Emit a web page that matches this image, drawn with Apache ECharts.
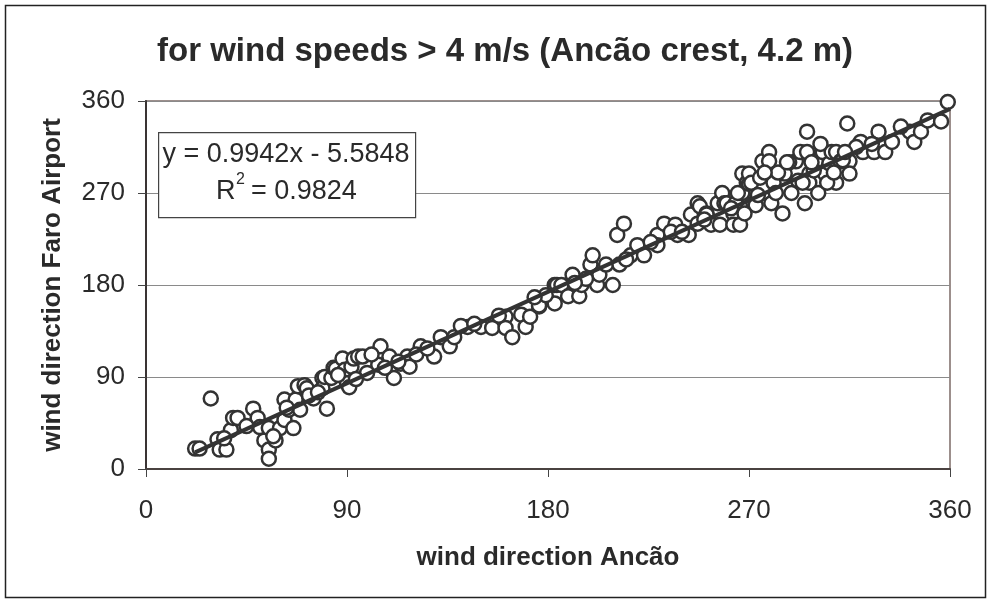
<!DOCTYPE html>
<html>
<head>
<meta charset="utf-8">
<script src="https://cdn.jsdelivr.net/npm/echarts@6/dist/echarts.min.js"></script>
<style>
  html, body { margin: 0; padding: 0; background: #fff; }
  #chart { width: 988px; height: 600px; }
</style>
</head>
<body>
<div id="chart"></div>
<script>
// wind direction pairs: [Ancão, Faro Airport]
const ancao = [
    22, 29, 32, 33, 36, 38, 39, 41, 48, 50, 51, 53, 55, 55, 55, 58, 60, 62, 62, 64,
    66, 67, 68, 69, 71, 72, 75, 79, 79, 81, 80, 83, 84, 85, 88, 89, 90, 91, 92, 93,
    95, 97, 104, 105, 109, 111, 114, 117, 118, 123, 129, 132, 136, 138, 144, 150, 155, 161, 161, 164,
    168, 170, 172, 176, 176, 183, 183, 184, 186, 189, 191, 194, 195, 199, 200, 202, 203, 206, 209, 211,
    212, 214, 217, 220, 223, 229, 229, 232, 237, 238, 243, 244, 247, 247, 248, 251, 251, 253, 253, 256,
    257, 258, 259, 260, 263, 263, 264, 266, 266, 267, 267, 269, 270, 270, 271, 272, 273, 276, 279, 279,
    280, 281, 285, 286, 289, 291, 293, 295, 296, 296, 297, 297, 300, 301, 303, 304, 306, 307, 309, 309,
    311, 314, 315, 315, 320, 321, 326, 328, 331, 334, 342, 344, 347, 350, 356, 359,
    35, 57, 63, 73, 86, 99, 101, 107, 121, 141, 158, 179, 197, 215, 226, 235, 262, 275, 283, 288,
    299, 302, 318, 338, 24, 45, 77, 94, 113, 126, 147, 174, 192, 240, 250, 274, 292, 312, 325,
    265, 268, 277, 282, 287, 294, 298, 305, 308, 313
];
const faro = [
    20, 69, 29, 19, 19, 38, 50, 50, 59, 50, 41, 28, 40, 19, 10, 28, 40, 48, 68, 58,
    40, 68, 81, 58, 82, 79, 69, 89, 79, 59, 90, 89, 99, 98, 108, 97, 84, 80, 100, 108,
    110, 110, 102, 120, 110, 89, 103, 110, 100, 120, 110, 129, 120, 129, 139, 139, 138, 149, 138, 129,
    151, 139, 149, 159, 160, 162, 180, 180, 180, 169, 190, 169, 180, 200, 209, 180, 190, 200, 180, 229,
    200, 240, 209, 219, 209, 229, 219, 240, 239, 229, 229, 249, 240, 260, 257, 250, 249, 240, 239, 260,
    239, 270, 260, 260, 250, 239, 260, 239, 270, 289, 270, 280, 279, 289, 280, 260, 258, 301, 310, 301,
    260, 280, 250, 289, 270, 301, 310, 260, 330, 310, 289, 280, 301, 270, 310, 289, 299, 310, 280, 310,
    301, 338, 301, 289, 320, 310, 310, 330, 310, 320, 330, 320, 330, 341, 340, 359,
    30, 32, 60, 72, 92, 94, 112, 99, 112, 140, 150, 170, 186, 205, 222, 232, 255, 285, 290, 300,
    292, 318, 315, 335, 20, 42, 75, 88, 105, 118, 142, 168, 182, 232, 244, 268, 282, 302, 318,
    270, 250, 290, 270, 300, 280, 300, 280, 290, 310
];

// regression from the reference
const slope = 0.9942;
const intercept = -5.5848;
const trendX = [22, 360];

const points = ancao.map((x, i) => [x, faro[i]]);
const trendLine = trendX.map(x => [x, slope * x + intercept]);

const chart = echarts.init(document.getElementById('chart'));

const fontFamily = '"Liberation Sans", Arial, sans-serif';
const ink = '#333';
const textColor = '#2a2a2a';

chart.setOption({
    backgroundColor: '#fff',
    animation: false,
    title: {
        text: 'for wind speeds > 4 m/s (Ancão crest, 4.2 m)',
        left: 152,
        top: 30,
        textStyle: { fontFamily, fontSize: 33, fontWeight: 'bold', color: textColor }
    },
    grid: {
        left: 146, right: 38, top: 101, bottom: 131,
        show: true,
        borderColor: '#9c8f8c',
        borderWidth: 2
    },
    xAxis: {
        type: 'value',
        min: 0, max: 360, interval: 90,
        name: 'wind direction Ancão',
        nameLocation: 'middle',
        nameGap: 76,
        nameTextStyle: { fontFamily, fontSize: 26, fontWeight: 'bold', color: textColor },
        axisLine: { show: true, lineStyle: { color: '#4a4240', width: 2 } },
        axisTick: { show: true, length: 8, lineStyle: { color: '#444' } },
        axisLabel: { fontFamily, fontSize: 26, color: textColor, margin: 29 },
        splitLine: { show: false }
    },
    yAxis: {
        type: 'value',
        min: 0, max: 360, interval: 90,
        name: 'wind direction Faro Airport',
        nameLocation: 'middle',
        nameGap: 80,
        nameRotate: 90,
        nameTextStyle: { fontFamily, fontSize: 26, fontWeight: 'bold', color: textColor },
        axisLine: { show: true, lineStyle: { color: '#3a3434', width: 2 } },
        axisTick: { show: true, length: 8, lineStyle: { color: '#444' } },
        axisLabel: { fontFamily, fontSize: 26, color: textColor, margin: 21 },
        splitLine: { show: true, lineStyle: { color: '#8a8a8a', width: 1 } }
    },
    series: [
        {
            type: 'scatter',
            data: points,
            symbol: 'circle',
            symbolSize: 14,
            itemStyle: { color: '#fff', borderColor: ink, borderWidth: 2.5, opacity: 1 },
            z: 2
        },
        {
            type: 'line',
            data: trendLine,
            symbol: 'none',
            lineStyle: { color: ink, width: 4 },
            z: 3
        }
    ],
    graphic: [
        {
            type: 'rect',
            left: 3, top: 3,
            shape: { width: 980, height: 592 },
            style: { fill: 'none', stroke: '#222', lineWidth: 1.5 },
            silent: true
        },
        {
            type: 'rect',
            left: 158, top: 132,
            shape: { width: 257, height: 85 },
            style: { fill: '#fff', stroke: '#444', lineWidth: 1.2 },
            z: 10
        },
        {
            type: 'text',
            x: 286, y: 155,
            style: {
                text: 'y = 0.9942x - 5.5848',
                font: '27px "Liberation Sans", Arial, sans-serif',
                fill: textColor,
                align: 'center',
                verticalAlign: 'middle'
            },
            z: 11
        },
        {
            type: 'text',
            x: 216, y: 192,
            style: {
                text: 'R',
                font: '27px "Liberation Sans", Arial, sans-serif',
                fill: textColor,
                verticalAlign: 'middle'
            },
            z: 11
        },
        {
            type: 'text',
            x: 236, y: 180,
            style: {
                text: '2',
                font: '16px "Liberation Sans", Arial, sans-serif',
                fill: textColor,
                verticalAlign: 'middle'
            },
            z: 11
        },
        {
            type: 'text',
            x: 251, y: 192,
            style: {
                text: '= 0.9824',
                font: '27px "Liberation Sans", Arial, sans-serif',
                fill: textColor,
                verticalAlign: 'middle'
            },
            z: 11
        }
    ]
});
</script>
</body>
</html>
